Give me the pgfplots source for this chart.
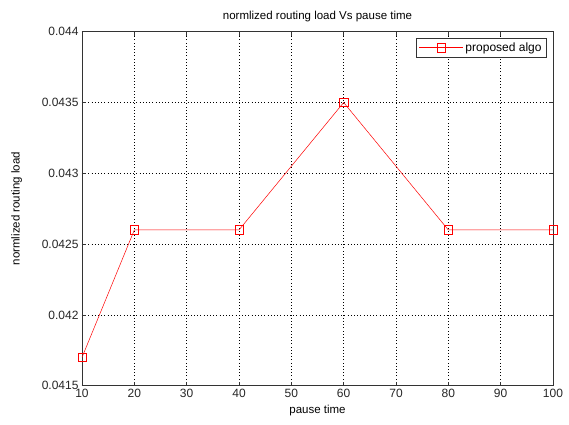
\documentclass[border=0pt]{standalone}
\usepackage{pgfplots}
\pgfplotsset{compat=1.18}
\usepackage{fontspec}
\setmainfont{Liberation Sans}
\begin{document}
\begin{tikzpicture}
\path[use as bounding box] (0pt,0pt) rectangle (569pt,424pt);
\begin{axis}[
  at={(82pt,38.3pt)}, anchor=south west,
  scale only axis, width=471pt, height=354pt,
  xmin=10, xmax=100, ymin=0.0415, ymax=0.044,
  xtick={10,20,...,100},
  ytick={0.0415,0.042,0.0425,0.043,0.0435,0.044},
  yticklabels={0.0415,0.042,0.0425,0.043,0.0435,0.044},
  scaled y ticks=false,
  tick align=inside,
  major tick length=4pt,
  grid=major,
  grid style={black, dash pattern=on 0.8pt off 2.4pt, line width=0.6pt},
  axis line style={black!80, line width=0.7pt},
  tick style={black!80, line width=0.7pt},
  tick label style={font=\fontsize{12}{14}\selectfont, text=black!85},
  label style={font=\fontsize{11.5}{14}\selectfont},
  title style={font=\fontsize{11.5}{14}\selectfont},
  title={normlized routing load Vs pause time},
  xlabel={pause time},
  ylabel={normlized routing load},
  xlabel style={yshift=-1pt},
  ylabel style={yshift=13pt},
  /pgf/number format/assume math mode=true,
  legend style={at={(0.986,0.983)}, anchor=north east, draw=black!80, line width=0.7pt,
    font=\fontsize{12}{14}\selectfont, inner sep=2.5pt},
  legend cell align=left,
  legend image code/.code={
    \draw[#1] (0pt,0pt) -- (44pt,0pt);
    \draw[#1, mark repeat=2, mark phase=2] plot coordinates {(0pt,0pt) (22pt,0pt) (44pt,0pt)};
  },
]
\addplot[red, line width=0.5pt, mark=square, mark size=4.2pt, mark options={solid, fill=none}]
coordinates {(10,0.0417) (20,0.0426) (40,0.0426) (60,0.0435) (80,0.0426) (100,0.0426)};
\addlegendentry{proposed algo}
\end{axis}
\end{tikzpicture}
\end{document}
